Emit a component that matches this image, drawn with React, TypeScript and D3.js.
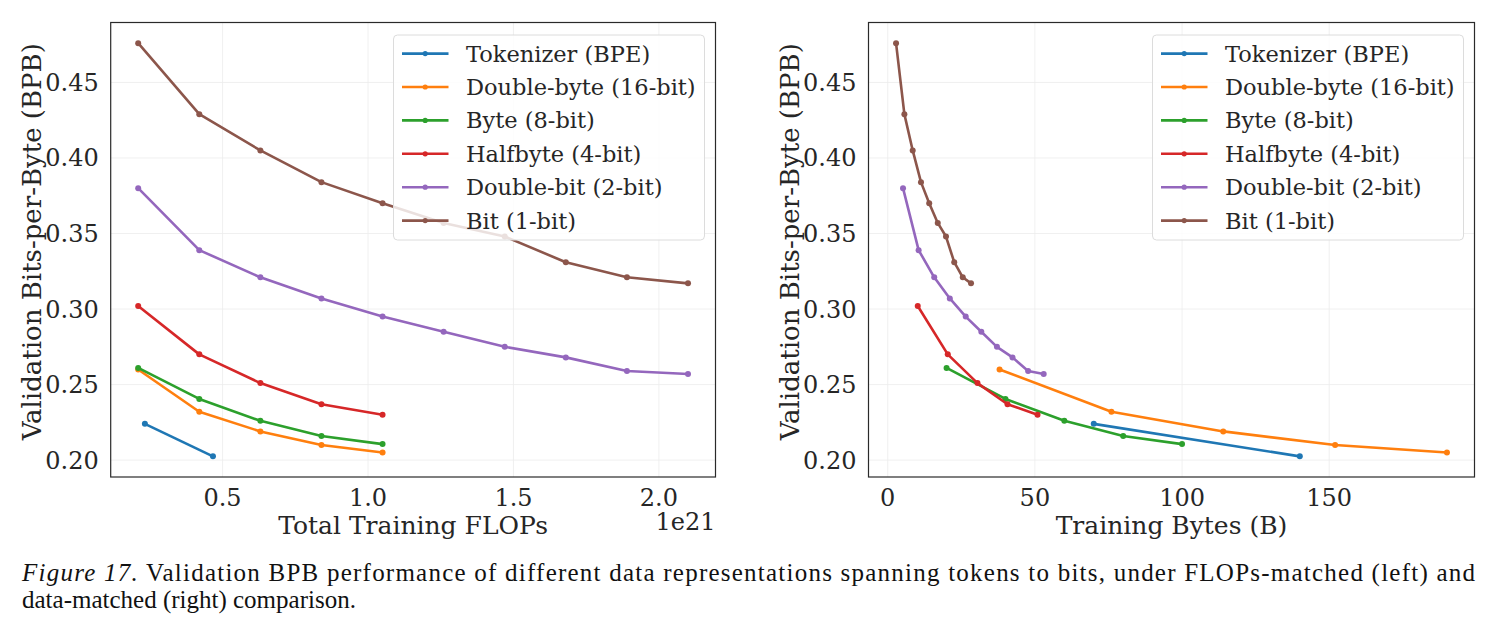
import React, { useEffect, useRef } from 'react';
import * as d3 from 'd3';

// series names + colours (tab10)
const seriesNames = ['Tokenizer (BPE)', 'Double-byte (16-bit)', 'Byte (8-bit)', 'Halfbyte (4-bit)', 'Double-bit (2-bit)', 'Bit (1-bit)'];
const seriesColors = ['#1f77b4', '#ff7f0e', '#2ca02c', '#d62728', '#9467bd', '#8c564b'];

// validation BPB per series
const bpbTokenizer = [0.224, 0.2025];
const bpbDoubleByte = [0.260, 0.232, 0.219, 0.210, 0.205];
const bpbByte = [0.261, 0.2405, 0.226, 0.216, 0.2106];
const bpbHalfbyte = [0.302, 0.270, 0.251, 0.237, 0.230];
const bpbDoubleBit = [0.380, 0.339, 0.321, 0.307, 0.295, 0.285, 0.275, 0.268, 0.259, 0.257];
const bpbBit = [0.476, 0.429, 0.405, 0.384, 0.370, 0.357, 0.348, 0.331, 0.321, 0.317];

// total training FLOPs (x 1e21)
const flopsTokenizer = [0.233, 0.467];
const flopsDoubleByte = [0.21, 0.42, 0.63, 0.84, 1.05];
const flopsByte = [0.21, 0.42, 0.63, 0.84, 1.05];
const flopsHalfbyte = [0.21, 0.42, 0.63, 0.84, 1.05];
const flopsDoubleBit = [0.21, 0.42, 0.63, 0.84, 1.05, 1.26, 1.47, 1.68, 1.89, 2.10];
const flopsBit = [0.21, 0.42, 0.63, 0.84, 1.05, 1.26, 1.47, 1.68, 1.89, 2.10];

// training bytes (B)
const bytesTokenizer = [70, 140];
const bytesDoubleByte = [38, 76, 114, 152, 190];
const bytesByte = [20, 40, 60, 80, 100];
const bytesHalfbyte = [10.2, 20.4, 30.5, 40.7, 50.9];
const bytesDoubleBit = [5.2, 10.5, 15.8, 21.1, 26.5, 31.8, 37.1, 42.4, 47.7, 53.0];
const bytesBit = [2.83, 5.66, 8.49, 11.3, 14.1, 17.0, 19.8, 22.6, 25.5, 28.3];

const yTicks = [0.20, 0.25, 0.30, 0.35, 0.40, 0.45];
const flopsTicks = [0.5, 1.0, 1.5, 2.0];
const bytesTicks = [0, 50, 100, 150];

const bpbAll = [bpbTokenizer, bpbDoubleByte, bpbByte, bpbHalfbyte, bpbDoubleBit, bpbBit];
const flopsAll = [flopsTokenizer, flopsDoubleByte, flopsByte, flopsHalfbyte, flopsDoubleBit, flopsBit];
const bytesAll = [bytesTokenizer, bytesDoubleByte, bytesByte, bytesHalfbyte, bytesDoubleBit, bytesBit];

const FONT = "'DejaVu Serif', 'Liberation Serif', serif";
const CAPFONT = "'Liberation Serif', 'DejaVu Serif', serif";
const TXT = '#262626';

// matplotlib style 5% margin
const padded = (vals) => {
  const [lo, hi] = d3.extent(vals);
  const m = (hi - lo) * 0.05;
  return [lo - m, hi + m];
};

function drawPanel(svg, opts) {
  const { left, right, top, bottom, xs, xTicks, xFmt, xLabel, offsetText } = opts;
  const g = svg.append('g');

  const x = d3.scaleLinear().domain(padded(xs.flat())).range([left, right]);
  const y = d3.scaleLinear().domain(padded(bpbAll.flat())).range([bottom, top]);

  // grid
  g.selectAll('.gx').data(xTicks).enter().append('line')
    .attr('x1', (d) => x(d)).attr('x2', (d) => x(d))
    .attr('y1', top).attr('y2', bottom)
    .attr('stroke', '#ececec').attr('stroke-width', 0.8);
  g.selectAll('.gy').data(yTicks).enter().append('line')
    .attr('x1', left).attr('x2', right)
    .attr('y1', (d) => y(d)).attr('y2', (d) => y(d))
    .attr('stroke', '#ececec').attr('stroke-width', 0.8);

  // lines + markers
  const line = d3.line().x((d) => x(d[0])).y((d) => y(d[1]));
  bpbAll.forEach((vals, i) => {
    const pts = vals.map((v, j) => [xs[i][j], v]);
    g.append('path').datum(pts)
      .attr('d', line)
      .attr('fill', 'none')
      .attr('stroke', seriesColors[i])
      .attr('stroke-width', 2.6)
      .attr('stroke-linejoin', 'round');
    g.selectAll(null).data(pts).enter().append('circle')
      .attr('cx', (d) => x(d[0])).attr('cy', (d) => y(d[1]))
      .attr('r', 3).attr('fill', seriesColors[i]);
  });

  // frame
  g.append('rect')
    .attr('x', left).attr('y', top)
    .attr('width', right - left).attr('height', bottom - top)
    .attr('fill', 'none').attr('stroke', '#2a2a2a').attr('stroke-width', 1.2);

  // tick labels
  g.selectAll('.xt').data(xTicks).enter().append('text')
    .attr('x', (d) => x(d)).attr('y', bottom + 29)
    .attr('text-anchor', 'middle')
    .style('font-family', FONT).style('font-size', '24px').attr('fill', TXT)
    .text(xFmt);
  g.selectAll('.yt').data(yTicks).enter().append('text')
    .attr('x', left - 12).attr('y', (d) => y(d) + 8.5)
    .attr('text-anchor', 'end')
    .style('font-family', FONT).style('font-size', '24px').attr('fill', TXT)
    .text(d3.format('.2f'));

  // axis labels
  g.append('text')
    .attr('x', (left + right) / 2).attr('y', bottom + 57)
    .attr('text-anchor', 'middle')
    .style('font-family', FONT).style('font-size', '25px').attr('fill', TXT)
    .text(xLabel);
  g.append('text')
    .attr('transform', `translate(${left - 70},${(top + bottom) / 2 - 8}) rotate(-90)`)
    .attr('text-anchor', 'middle')
    .style('font-family', FONT).style('font-size', '26px').attr('fill', TXT)
    .text('Validation Bits-per-Byte (BPB)');
  if (offsetText) {
    g.append('text')
      .attr('x', right).attr('y', bottom + 53)
      .attr('text-anchor', 'end')
      .style('font-family', FONT).style('font-size', '24px').attr('fill', TXT)
      .text(offsetText);
  }

  // legend
  const lx = right - 322, ly = top + 12.5;
  const lg = g.append('g').attr('transform', `translate(${lx},${ly})`);
  lg.append('rect')
    .attr('width', 311).attr('height', 205).attr('rx', 4)
    .attr('fill', 'white').attr('fill-opacity', 0.82)
    .attr('stroke', '#dcdcdc').attr('stroke-width', 1);
  seriesNames.forEach((name, i) => {
    const cy = 18.6 + i * 33.4;
    lg.append('line')
      .attr('x1', 8.5).attr('x2', 55).attr('y1', cy).attr('y2', cy)
      .attr('stroke', seriesColors[i]).attr('stroke-width', 2.6);
    lg.append('circle').attr('cx', 31.7).attr('cy', cy).attr('r', 2.6).attr('fill', seriesColors[i]);
    lg.append('text')
      .attr('x', 72.5).attr('y', cy + 8)
      .style('font-family', FONT).style('font-size', '22.5px').attr('fill', TXT)
      .text(name);
  });
}

export default function App() {
  const ref = useRef(null);

  useEffect(() => {
    const svg = d3.select(ref.current);
    svg.selectAll('*').remove();

    drawPanel(svg, {
      left: 110.7, right: 715.5, top: 22.5, bottom: 477,
      xs: flopsAll, xTicks: flopsTicks, xFmt: d3.format('.1f'),
      xLabel: 'Total Training FLOPs', offsetText: '1e21',
    });
    drawPanel(svg, {
      left: 868.5, right: 1474.5, top: 22.5, bottom: 477,
      xs: bytesAll, xTicks: bytesTicks, xFmt: d3.format('d'),
      xLabel: 'Training Bytes (B)', offsetText: null,
    });

    // caption: size it so the first (justified) line fills the text width
    const cap = svg.append('text')
      .attr('x', 22).attr('y', 581)
      .style('font-family', CAPFONT).style('font-size', '20px').attr('fill', '#111');
    cap.append('tspan').style('font-style', 'italic').text('Figure 17.');
    cap.append('tspan').text('  Validation BPB performance of different data representations spanning tokens to bits, under FLOPs-matched (left) and');
    const natural = cap.node().getComputedTextLength() || 1453;
    const capSize = Math.min(25, (20 * 1440) / natural);
    cap.style('font-size', `${capSize}px`)
      .attr('textLength', 1453).attr('lengthAdjust', 'spacing');
    svg.append('text')
      .attr('x', 22).attr('y', 608)
      .style('font-family', CAPFONT).style('font-size', `${capSize}px`).attr('fill', '#111')
      .text('data-matched (right) comparison.');
  }, []);

  return (
    <svg ref={ref} width={1493} height={635}
      style={{ position: 'absolute', left: 0, top: 0, background: 'white' }} />
  );
}
